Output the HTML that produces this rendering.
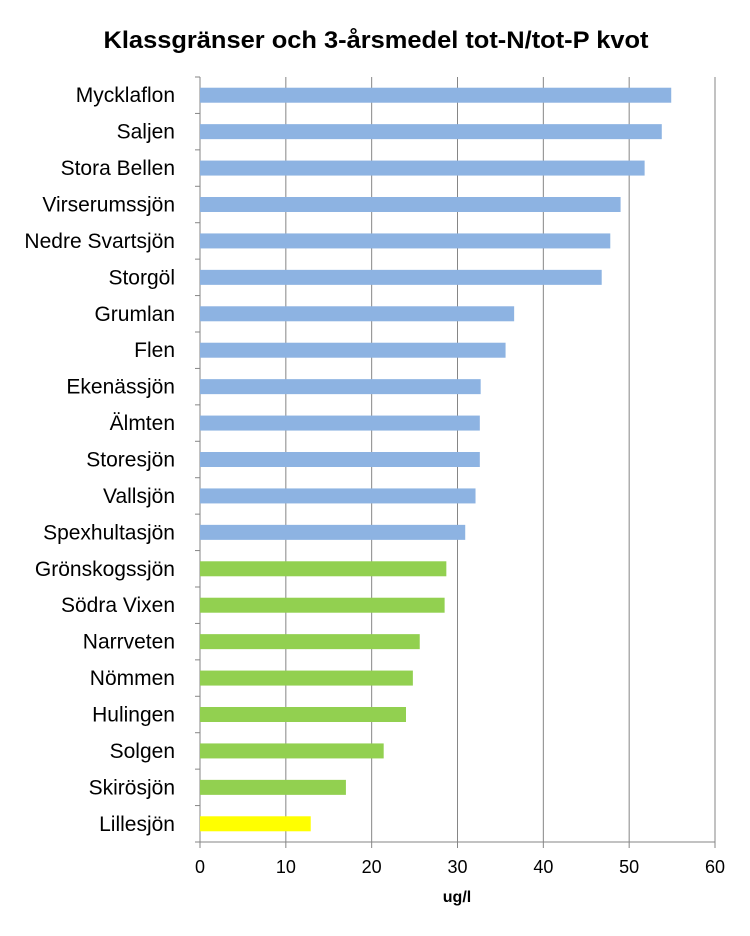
<!DOCTYPE html>
<html><head><meta charset="utf-8"><style>
body{margin:0;background:#fff;}
svg{display:block;font-family:"Liberation Sans",sans-serif;}
</style></head><body>
<svg id="chart" width="750" height="936">
<text x="376" y="48" text-anchor="middle" font-size="24" font-weight="bold" fill="#000" textLength="545" lengthAdjust="spacingAndGlyphs">Klassgränser och 3-årsmedel tot-N/tot-P kvot</text>
<g id="grid"></g><g id="bars"></g><g id="ylabels"></g><g id="xlabels"></g>
<text x="457" y="902" text-anchor="middle" font-size="16" font-weight="bold" fill="#000">ug/l</text>
</svg>
<script>
const categories=["Mycklaflon","Saljen","Stora Bellen","Virserumssjön","Nedre Svartsjön","Storgöl","Grumlan","Flen","Ekenässjön","Älmten","Storesjön","Vallsjön","Spexhultasjön","Grönskogssjön","Södra Vixen","Narrveten","Nömmen","Hulingen","Solgen","Skirösjön","Lillesjön"];
const values=[54.9,53.8,51.8,49.0,47.8,46.8,36.6,35.6,32.7,32.6,32.6,32.1,30.9,28.7,28.5,25.6,24.8,24.0,21.4,17.0,12.9];
const classes=["b","b","b","b","b","b","b","b","b","b","b","b","b","g","g","g","g","g","g","g","y"];
const ticks=[0,10,20,30,40,50,60];
const colors={b:"#8db3e2",g:"#92d050",y:"#ffff00"};
const ns="http://www.w3.org/2000/svg";
const X0=200,X1=715,Y0=77,Y1=842,XMAX=60;
const x=v=>X0+(X1-X0)*v/XMAX;
const band=(Y1-Y0)/categories.length;
const y=i=>Y0+band*i;
function mk(t,a,p){const e=document.createElementNS(ns,t);for(const k in a)e.setAttribute(k,a[k]);p.appendChild(e);return e;}
const grid=document.getElementById('grid'),bars=document.getElementById('bars'),yl=document.getElementById('ylabels'),xl=document.getElementById('xlabels');
ticks.forEach(t=>{
 const l=mk('line',{x1:x(t),x2:x(t),y1:Y0,y2:Y1+6,stroke:'#868686','stroke-width':1},grid);
 
 
 const tx=mk('text',{x:x(t),y:Y1+31,'text-anchor':'middle','font-size':18,fill:'#000'},xl);
 tx.textContent=t;
 
 
});
const ax=mk('line',{x1:X0,x2:X1,y1:Y1,y2:Y1,stroke:'#868686','stroke-width':1},grid);


for(let i=0;i<=categories.length;i++){
 const tk=mk('line',{x1:X0-5,x2:X0,y1:y(i),y2:y(i),stroke:'#868686'},grid);
 
 
}
categories.forEach((c,i)=>{
 const bh=15,cy=y(i)+band/2;
 const r=mk('rect',{x:X0,y:cy-bh/2,width:x(values[i])-X0,height:bh,fill:colors[classes[i]]},bars);
 
 
 const t=mk('text',{x:175,y:cy+7,'text-anchor':'end','font-size':21,fill:'#000'},yl);
 t.textContent=c;
 
 
});
</script>
</body></html>
